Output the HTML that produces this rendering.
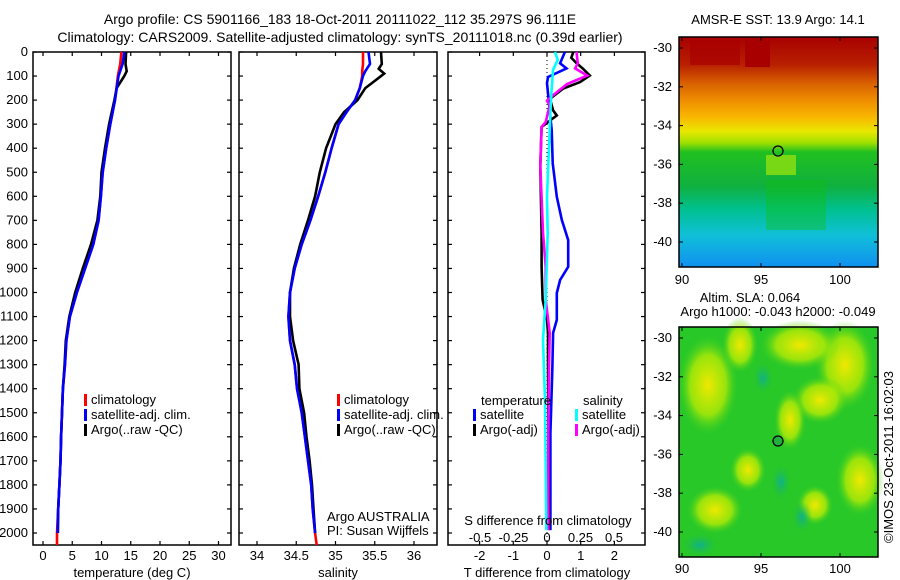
<!DOCTYPE html>
<html><head><meta charset="utf-8">
<style>
html,body{margin:0;padding:0;background:#fff;}
svg{display:block;font-family:"Liberation Sans",sans-serif;}
text{fill:#000;}
</style></head>
<body>
<svg id="fig" width="900" height="580" viewBox="0 0 900 580" xmlns="http://www.w3.org/2000/svg">
<defs>
<linearGradient id="sstGrad" x1="0" y1="0" x2="0" y2="1">
<stop offset="0" stop-color="#a80000"/>
<stop offset="0.12" stop-color="#b82000"/>
<stop offset="0.2" stop-color="#d86000"/>
<stop offset="0.28" stop-color="#f09000"/>
<stop offset="0.35" stop-color="#f8b800"/>
<stop offset="0.41" stop-color="#e8e800"/>
<stop offset="0.46" stop-color="#a0e000"/>
<stop offset="0.5" stop-color="#20c020"/>
<stop offset="0.65" stop-color="#10b040"/>
<stop offset="0.75" stop-color="#00c090"/>
<stop offset="0.86" stop-color="#10c0d8"/>
<stop offset="1" stop-color="#1090f0"/>
</linearGradient>
<radialGradient id="blobY"><stop offset="0" stop-color="#f0e800"/><stop offset="0.6" stop-color="#c8f000" stop-opacity="0.7"/><stop offset="1" stop-color="#40d020" stop-opacity="0"/></radialGradient>
<radialGradient id="blobB"><stop offset="0" stop-color="#10b090"/><stop offset="1" stop-color="#20c040" stop-opacity="0"/></radialGradient>
</defs>
<text x="340" y="24" font-size="14" text-anchor="middle">Argo profile: CS 5901166_183 18-Oct-2011 20111022_112 35.297S 96.111E</text>
<text x="340" y="42" font-size="14" text-anchor="middle">Climatology: CARS2009. Satellite-adjusted climatology: synTS_20111018.nc (0.39d earlier)</text>
<g id="panels"></g>
<g id="maps">
 <g>
  <rect x="679" y="37" width="199" height="230" fill="url(#sstGrad)"/>
  <rect x="690" y="40" width="50" height="25" fill="#a80000" opacity="0.7"/>
  <rect x="745" y="37" width="25" height="30" fill="#a80000"/>
  <rect x="766" y="155" width="30" height="20" fill="#90e010" opacity="0.8"/>
  <rect x="766" y="180" width="60" height="50" fill="#10c010" opacity="0.4"/>
  <rect x="679" y="37" width="199" height="230" fill="none" stroke="#000" stroke-width="1.5"/>
  <circle cx="778" cy="151" r="5" fill="none" stroke="#000" stroke-width="1.3"/>
 </g>
 <g>
  <rect x="679" y="327" width="199" height="230" fill="#28c828"/>
  <ellipse cx="708" cy="385" rx="30" ry="50" fill="url(#blobY)"/>
  <ellipse cx="740" cy="345" rx="18" ry="28" fill="url(#blobY)"/>
  <ellipse cx="845" cy="365" rx="30" ry="45" fill="url(#blobY)"/>
  <ellipse cx="800" cy="345" rx="40" ry="25" fill="url(#blobY)"/>
  <ellipse cx="820" cy="400" rx="28" ry="24" fill="url(#blobY)"/>
  <ellipse cx="790" cy="420" rx="16" ry="30" fill="url(#blobY)"/>
  <ellipse cx="748" cy="470" rx="18" ry="22" fill="url(#blobY)"/>
  <ellipse cx="715" cy="510" rx="28" ry="24" fill="url(#blobY)"/>
  <ellipse cx="860" cy="480" rx="24" ry="36" fill="url(#blobY)"/>
  <ellipse cx="815" cy="505" rx="18" ry="20" fill="url(#blobY)"/>
  <ellipse cx="763" cy="378" rx="10" ry="16" fill="url(#blobB)"/>
  <ellipse cx="781" cy="482" rx="10" ry="18" fill="url(#blobB)"/>
  <ellipse cx="802" cy="517" rx="10" ry="16" fill="url(#blobB)"/>
  <ellipse cx="700" cy="545" rx="18" ry="12" fill="url(#blobB)"/>
  <rect x="679" y="327" width="199" height="230" fill="none" stroke="#000" stroke-width="1.5"/>
  <circle cx="778" cy="441" r="5" fill="#20b040" stroke="#000" stroke-width="1.3"/>
 </g>
 <text x="778" y="24" font-size="13" text-anchor="middle">AMSR-E SST: 13.9 Argo: 14.1</text>
 <text x="750" y="302" font-size="13" text-anchor="middle">Altim. SLA: 0.064</text>
 <text x="778" y="316" font-size="13" text-anchor="middle">Argo h1000: -0.043 h2000: -0.049</text>
 <text font-size="13" text-anchor="middle" transform="translate(893,457) rotate(-90)">©IMOS 23-Oct-2011 16:02:03</text>
</g>
<g id="mapticks"></g>
</svg>
<script>
// ---- data ----
const tDepth = [0,50,100,200,300,400,500,600,700,800,900,1000,1100,1200,1300,1400,1500,1600,1700,1800,1900,2000,2050];
const tempClim = [13.4,13.2,12.8,12.3,11.5,10.8,10.2,9.9,9.5,8.6,7.2,5.8,4.6,4.0,3.76,3.4,3.25,3.1,3.0,2.8,2.6,2.4,2.4];
const tempSat  = [13.9,13.6,12.9,12.3,11.5,10.8,10.2,9.9,9.5,8.6,7.2,5.8,4.6,4.0,3.76,3.4,3.25,3.1,3.0,2.8,2.6,2.5];
const argoDepth = [0,50,80,100,150,200,300,400,500,600,700,800,900,1000,1100,1200,1300,1400,1500,1600,1700,1800,1900,2000];
const tempArgo = [14.2,14.1,14.3,13.9,12.6,12.2,11.3,10.6,10.0,9.8,9.3,8.2,6.8,5.5,4.5,3.9,3.7,3.4,3.25,3.1,3.0,2.8,2.6,2.55];
const sDepth = [0,50,80,100,150,200,250,300,400,500,600,700,800,900,1000,1100,1200,1300,1400,1500,1600,1700,1800,1900,2000,2050];
const salClim = [35.35,35.35,35.34,35.34,35.31,35.25,35.14,35.04,34.95,34.87,34.78,34.68,34.57,34.48,34.42,34.40,34.42,34.48,34.51,34.57,34.61,34.65,34.69,34.71,34.74,34.76];
const salSat  = [35.42,35.44,35.38,35.35,35.31,35.25,35.14,35.04,34.95,34.87,34.78,34.68,34.57,34.48,34.42,34.40,34.42,34.48,34.51,34.57,34.61,34.65,34.69,34.71,34.74];
const saDepth = [0,50,70,90,120,150,200,250,300,350,400,500,600,700,800,900,1000,1100,1200,1300,1400,1500,1600,1700,1800,1900,2000];
const salArgo = [35.58,35.59,35.55,35.62,35.5,35.38,35.28,35.11,35.0,34.94,34.88,34.8,34.74,34.65,34.55,34.47,34.42,34.42,34.46,34.53,34.54,34.6,34.63,34.67,34.7,34.72,34.74];
const dtsDepth = [0,47,68,104,130,324,462,602,698,782,893,948,1002,1114,1168,1308,1447,1585,1863,1988];
const dTSat = [0.53,0.39,0.58,0.03,0.0,0.14,0.17,0.29,0.44,0.63,0.63,0.39,0.29,0.29,0.18,0.16,0.13,0.1,0.1,0.1];
const dtaDepth = [0,24,47,70,98,125,152,194,243,264,285,312,474,751,893,1030,1114,1168,1308,1988];
const dTArgo = [0.78,0.72,0.88,1.07,1.27,0.98,0.48,0.09,0.18,0.29,0.09,-0.16,-0.2,-0.16,-0.16,-0.13,0,0.03,0.03,0.06];
const dssDepth = [0,33,75,194,324,602,753,1030,1196,1447,1724,1988];
const dSSat = [0.06,0.08,0.045,0.03,0.02,0,0.005,-0.01,-0.03,-0.015,-0.01,-0.005];
const dsaDepth = [0,47,68,98,133,180,202,222,291,312,474,751,893,1030,1168,1308,1585,1988];
const dSArgo = [0.22,0.23,0.21,0.3,0.15,0.045,0.0,0.02,-0.01,-0.04,-0.05,-0.03,-0.01,-0.01,0.02,0.015,0.01,0.01];
const depthTicks = [0,100,200,300,400,500,600,700,800,900,1000,1100,1200,1300,1400,1500,1600,1700,1800,1900,2000];
const tempTicks = [0,5,10,15,20,25,30];
const salTicks = [34,34.5,35,35.5,36];
const dTTicks = [-2,-1,0,1,2];
const dSTicks = [-0.5,-0.25,0,0.25,0.5];
const latTicks = [-30,-32,-34,-36,-38,-40];
const lonTicks = [90,95,100];

// ---- axes ----
const NS='http://www.w3.org/2000/svg';
const Y0=52, YB=545, FS=13;
const yD = d => Y0 + d*0.2405;
const xT = t => 43 + t*5.85;
const xS = s => 257 + (s-34)*78.5;
const xDT = t => 547 + t*33.7;
const xDS = s => 547 + s*134;
const g = document.getElementById('panels');
function el(tag, attrs, parent){const e=document.createElementNS(NS,tag);for(const k in attrs)e.setAttribute(k,attrs[k]);(parent||g).appendChild(e);return e;}
function txt(x,y,s,anchor,size,parent){const e=el('text',{x:x,y:y,'font-size':size||FS,'text-anchor':anchor||'start'},parent);e.textContent=s;return e;}

const panels=[{x0:33,x1:231,name:'temperature-panel'},{x0:239,x1:437,name:'salinity-panel'},{x0:448,x1:645,name:'difference-panel'}];
panels.forEach((p,i)=>{
  const pg=el('g',{});
  
  
  const r=el('rect',{x:p.x0,y:Y0,width:p.x1-p.x0,height:YB-Y0,fill:'none',stroke:'#000','stroke-width':1.5},pg);
  
  
  depthTicks.forEach(d=>{
    el('line',{x1:p.x0,x2:p.x0+4,y1:yD(d),y2:yD(d),stroke:'#000','stroke-width':1.2},pg);
    el('line',{x1:p.x1-4,x2:p.x1,y1:yD(d),y2:yD(d),stroke:'#000','stroke-width':1.2},pg);
    if(i===0){const t=txt(28,yD(d)+4,String(d),'end',FS,pg);
      
      }
  });
  p.g=pg;
});
function xticks(p,ticks,fx,ly){
  ticks.forEach(v=>{const x=fx(v);
    el('line',{x1:x,x2:x,y1:YB,y2:YB-4,stroke:'#000','stroke-width':1.2},p.g);
    el('line',{x1:x,x2:x,y1:Y0,y2:Y0+4,stroke:'#000','stroke-width':1.2},p.g);
    if(ly){const t=txt(x,ly,String(v),'middle',FS,p.g);
      
      }
  });
}
xticks(panels[0],tempTicks,xT,560);
xticks(panels[1],salTicks,xS,560);
xticks(panels[2],dTTicks,xDT,560);
dSTicks.forEach(v=>{const t=txt(xDS(v),542,String(v),'middle',FS,panels[2].g);
  
  });
const z=el('line',{x1:xDT(0),x2:xDT(0),y1:Y0,y2:YB,stroke:'#000','stroke-width':1,'stroke-dasharray':'1,3'},panels[2].g);



function series(p,depths,vals,fx,color,name){
  const pts=vals.map((v,k)=>fx(v).toFixed(1)+','+yD(depths[k]).toFixed(1)).join(' ');
  const l=el('polyline',{points:pts,fill:'none',stroke:color,'stroke-width':2.6,'stroke-linejoin':'miter'},p.g);
  
  
}
series(panels[0],tDepth,tempClim,xT,'#ff0000','temp-climatology-line');
series(panels[0],argoDepth,tempArgo,xT,'#000000','temp-argo-line');
series(panels[0],tDepth,tempSat,xT,'#0000ff','temp-satellite-line');
series(panels[1],sDepth,salClim,xS,'#ff0000','sal-climatology-line');
series(panels[1],saDepth,salArgo,xS,'#000000','sal-argo-line');
series(panels[1],sDepth,salSat,xS,'#0000ff','sal-satellite-line');
series(panels[2],dtsDepth,dTSat,xDT,'#0000ff','dT-satellite-line');
series(panels[2],dtaDepth,dTArgo,xDT,'#000000','dT-argo-line');
series(panels[2],dsaDepth,dSArgo,xDS,'#ff00ff','dS-argo-line');
series(panels[2],dssDepth,dSSat,xDS,'#00ffff','dS-satellite-line');

function legend(p,x,y,color,label){
  const r=el('rect',{x:x,y:y-10,width:3,height:12,fill:color},p.g);
  
  
  const t=txt(x+7,y,label,'start',FS,p.g);
  
  
}
legend(panels[0],84,404,'#ff0000','climatology');
legend(panels[0],84,419,'#0000ff','satellite-adj. clim.');
legend(panels[0],84,434,'#000000','Argo(..raw -QC)');
legend(panels[1],337,404,'#ff0000','climatology');
legend(panels[1],337,419,'#0000ff','satellite-adj. clim.');
legend(panels[1],337,434,'#000000','Argo(..raw -QC)');
txt(481,405,'temperature','start',FS,panels[2].g);
txt(583,405,'salinity','start',FS,panels[2].g);
legend(panels[2],473,419,'#0000ff','satellite');
legend(panels[2],473,434,'#000000','Argo(-adj)');
legend(panels[2],575,419,'#00ffff','satellite');
legend(panels[2],575,434,'#ff00ff','Argo(-adj)');
txt(327,521,'Argo AUSTRALIA','start',FS,panels[1].g);
txt(327,535,'PI: Susan Wijffels','start',FS,panels[1].g);
txt(548,525,'S difference from climatology','middle',FS,panels[2].g);
[['temperature (deg C)',132],['salinity',338],['T difference from climatology',547]].forEach(a=>{
  const t=txt(a[1],577,a[0],'middle',FS);
  
  
});

// map ticks
const mt=document.getElementById('mapticks');
const xLon = v => 682 + (v-90)*15.8;
[[48,37,267,284],[338,327,557,573]].forEach(m=>{
  const yLat = v => m[0] + (-30 - v)*19.4;
  latTicks.forEach(v=>{const y=yLat(v);
    el('line',{x1:679,x2:683,y1:y,y2:y,stroke:'#000'},mt);
    el('line',{x1:874,x2:878,y1:y,y2:y,stroke:'#000'},mt);
    const t=txt(672,y+4,String(v),'end',FS,mt);
    
    });
  lonTicks.forEach(v=>{const x=xLon(v);
    el('line',{x1:x,x2:x,y1:m[2],y2:m[2]-4,stroke:'#000'},mt);
    el('line',{x1:x,x2:x,y1:m[1],y2:m[1]+4,stroke:'#000'},mt);
    const t=txt(x,m[3],String(v),'middle',FS,mt);
    
    });
});
</script>
</body></html>
